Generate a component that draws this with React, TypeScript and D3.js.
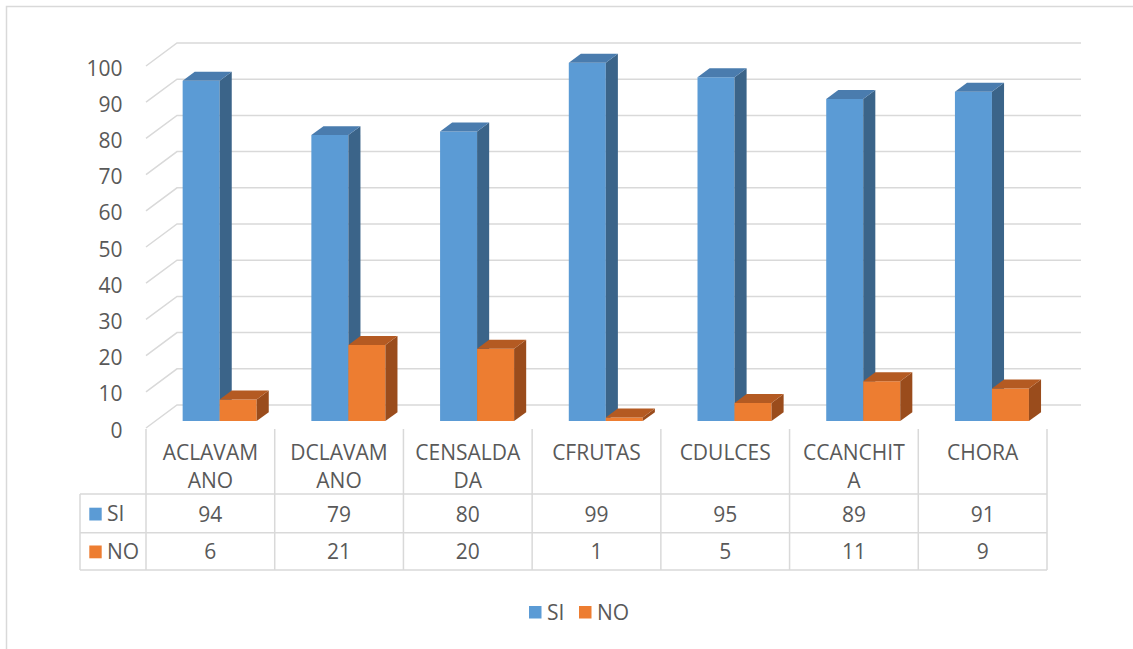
import React, { useEffect } from 'react';
import * as d3 from 'd3';

// Survey answers per item (percent)
const categories = ['ACLAVAMANO', 'DCLAVAMANO', 'CENSALDADA', 'CFRUTAS', 'CDULCES', 'CCANCHITA', 'CHORA'];
const categoryLines = [['ACLAVAM', 'ANO'], ['DCLAVAM', 'ANO'], ['CENSALDA', 'DA'], ['CFRUTAS'], ['CDULCES'], ['CCANCHIT', 'A'], ['CHORA']];
const seriesNames = ['SI', 'NO'];
const siValues = [94, 79, 80, 99, 95, 89, 91];
const noValues = [6, 21, 20, 1, 5, 11, 9];
const yTicks = [0, 10, 20, 30, 40, 50, 60, 70, 80, 90, 100];

const W = 1133;
const H = 649;
const FONT = '"Open Sans", "Liberation Sans", sans-serif';
const FS = 21;
const TEXT = '#595959';
const GRID = '#d9d9d9';

const faceColors: Record<string, { front: string; top: string; side: string }> = {
  SI: { front: '#5b9bd5', top: '#4a7cae', side: '#3b6489' },
  NO: { front: '#ed7d31', top: '#b45a22', side: '#9a4c1c' },
};

// oblique depth vector for the full floor depth
const DX = 31;
const DY = -23;
const T0 = 0.3;
const T1 = 0.69;

const proj = (x: number, y: number, t: number): [number, number] => [x + DX * t, y + DY * t];
const pts = (arr: [number, number][]) => arr.map((p) => p.join(',')).join(' ');

export default function App() {
  useEffect(() => {
    document.body.style.margin = '0';
  }, []);

  const x = d3.scaleBand<string>().domain(categories).range([146, 1047]).paddingInner(0).paddingOuter(0);
  const inner = d3.scaleBand<string>().domain(seriesNames).range([0, x.bandwidth()]).paddingInner(0).paddingOuter(0.739);
  const y = d3.scaleLinear().domain([0, 100]).range([428, 66]);

  const valuesBySeries: Record<string, number[]> = { SI: siValues, NO: noValues };
  const gridRight = 1050;

  const rowTop = 494;
  const rowMid = 532.7;
  const rowBottom = 570;
  const tableLeft = 80;
  const tableStart = 146;
  const tableEnd = 1047;

  return (
    <svg width={W} height={H} viewBox={`0 0 ${W} ${H}`} style={{ display: 'block', background: '#fff' }} fontFamily={FONT}>
      <rect x={6.5} y={6.5} width={W + 20} height={H + 20} fill="#fff" stroke={GRID} strokeWidth={1.5} />

      {/* wall gridlines */}
      {yTicks.map((v) => {
        const yy = y(v);
        const a = proj(tableStart, yy, 0);
        const b = proj(tableStart, yy, 1);
        const c = proj(gridRight, yy, 1);
        return <polyline key={`g${v}`} points={pts([a, b, c])} fill="none" stroke={GRID} strokeWidth={1.5} />;
      })}

      {/* y-axis labels */}
      {yTicks.map((v) => (
        <text key={`t${v}`} x={122.5} y={y(v) + 1.5} textAnchor="end" dominantBaseline="central" fontSize={FS} fill={TEXT}>
          {v}
        </text>
      ))}

      {/* 3D columns */}
      {categories.map((cat, i) => (
        <g key={cat}>
          {seriesNames.map((s) => {
            const v = valuesBySeries[s][i];
            const x0 = (x(cat) ?? 0) + (inner(s) ?? 0);
            const x1 = x0 + inner.bandwidth();
            const yt = y(v);
            const yb = y(0);
            const c = faceColors[s];
            const front = pts([proj(x0, yt, T0), proj(x1, yt, T0), proj(x1, yb, T0), proj(x0, yb, T0)]);
            const top = pts([proj(x0, yt, T0), proj(x1, yt, T0), proj(x1, yt, T1), proj(x0, yt, T1)]);
            const side = pts([proj(x1, yt, T0), proj(x1, yt, T1), proj(x1, yb, T1), proj(x1, yb, T0)]);
            return (
              <g key={s}>
                <polygon points={front} fill={c.front} />
                <polygon points={side} fill={c.side} />
                <polygon points={top} fill={c.top} />
              </g>
            );
          })}
        </g>
      ))}

      {/* data table */}
      <g stroke={GRID} strokeWidth={1.5}>
        {d3.range(categories.length + 1).map((k) => {
          const xx = tableStart + k * x.step();
          return <line key={`v${k}`} x1={xx} x2={xx} y1={429} y2={rowBottom} />;
        })}
        <line x1={tableLeft} x2={tableLeft} y1={rowTop} y2={rowBottom} />
        {[rowTop, rowMid, rowBottom].map((yy) => (
          <line key={`h${yy}`} x1={tableLeft} x2={tableEnd} y1={yy} y2={yy} />
        ))}
      </g>

      {categories.map((cat, i) => {
        const cx = (x(cat) ?? 0) + x.bandwidth() / 2;
        return (
          <g key={`lab${cat}`} fontSize={FS} fill={TEXT} textAnchor="middle">
            {categoryLines[i].map((ln, j) => (
              <text key={j} x={cx} y={460 + j * 28}>
                {ln}
              </text>
            ))}
            <text x={cx} y={521.5}>{siValues[i]}</text>
            <text x={cx} y={559}>{noValues[i]}</text>
          </g>
        );
      })}

      {/* row keys */}
      {seriesNames.map((s, k) => {
        const yy = k === 0 ? 507.7 : 545.5;
        return (
          <g key={`rk${s}`}>
            <rect x={89.3} y={yy} width={12.4} height={12.8} fill={faceColors[s].front} />
            <text x={107} y={yy + 13.5} fontSize={FS} fill={TEXT}>
              {s}
            </text>
          </g>
        );
      })}

      {/* legend */}
      {seriesNames.map((s, k) => {
        const lx = k === 0 ? 529 : 579;
        return (
          <g key={`lg${s}`}>
            <rect x={lx} y={606} width={12.5} height={12.5} fill={faceColors[s].front} />
            <text x={lx + 18} y={619.5} fontSize={FS} fill={TEXT}>
              {s}
            </text>
          </g>
        );
      })}
    </svg>
  );
}
